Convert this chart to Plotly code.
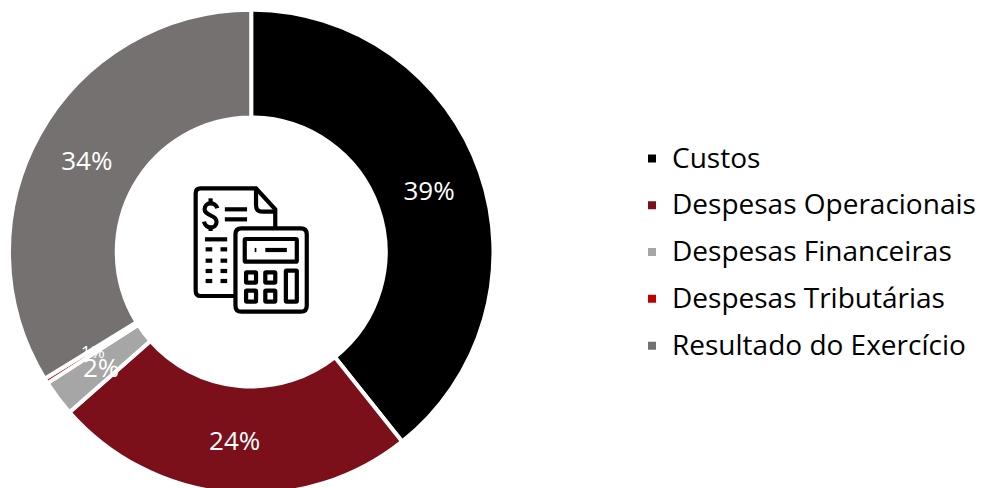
import plotly.graph_objects as go

categories = ["Custos", "Despesas Operacionais", "Despesas Financeiras", "Despesas Tributárias", "Resultado do Exercício"]
values = [39.3, 24.2, 2.4, 0.34, 33.76]
value_labels = ["39%", "24%", "2%", "1%", "34%"]
colors = ["#000000", "#7b0f1a", "#a6a6a6", "#c00000", "#767171"]

W, H = 981, 504
FONT = "Open Sans"


def X(z):
    return (170 + z / 3) / W


def Y(z):
    return 1 - (170 + z / 3) / H


def path(cmds):
    out = []
    for c in cmds:
        if isinstance(c, str):
            out.append(c)
        else:
            out.append(f"{X(c[0]):.5f},{Y(c[1]):.5f}")
    return " ".join(out)


def rrect(x0, y0, x1, y1, r):
    return path(["M", (x0 + r, y0), "L", (x1 - r, y0), "Q", (x1, y0), (x1, y0 + r), "L", (x1, y1 - r),
                 "Q", (x1, y1), (x1 - r, y1), "L", (x0 + r, y1), "Q", (x0, y1), (x0, y1 - r), "L", (x0, y0 + r),
                 "Q", (x0, y0), (x0 + r, y0), "Z"])


def line(x0, y0, x1, y1):
    return path(["M", (x0, y0), "L", (x1, y1)])


icon = [
    path(["M", (198, 378), "L", (95, 378), "Q", (80, 378), (80, 363), "L", (80, 70), "Q", (80, 55), (95, 55),
          "L", (262, 55), "L", (320, 118), "L", (320, 175)]),
    path(["M", (262, 55), "L", (262, 105), "Q", (262, 125), (280, 125), "L", (320, 125)]),
    path(["M", (145, 115), "C", (140, 95), (107, 95), (107, 118), "C", (107, 140), (143, 132), (143, 155),
          "C", (143, 178), (110, 178), (105, 155)]),
    line(125, 85, 125, 100), line(125, 172, 125, 183),
    line(168, 118, 235, 118), line(168, 148, 235, 148),
    line(108, 208, 175, 208),
    rrect(200, 175, 415, 425, 18),
    rrect(228, 207, 385, 275, 3),
    line(290, 240, 355, 240), line(258, 240, 263, 240),
    rrect(232, 307, 262, 338, 2), rrect(290, 307, 320, 338, 2), rrect(352, 302, 385, 395, 2),
    rrect(232, 362, 262, 395, 2), rrect(290, 362, 320, 395, 2),
]
for yy in (238, 272, 303, 333):
    icon.append(line(110, yy, 130, yy))
    icon.append(line(155, yy, 175, yy))

shapes = [dict(type="path", xref="paper", yref="paper", path=p, line=dict(color="#000000", width=4.2),
               fillcolor="rgba(0,0,0,0)", layer="above") for p in icon]

legend_names = [f'<span style="font-size:28px">{c}</span>' for c in categories]

# the two thin slices carry their labels as annotations, since the pie would shrink or drop them
pie_text = [t if v >= 5 else "" for t, v in zip(value_labels, values)]
annotations = [
    dict(text=value_labels[3], xref="paper", yref="paper", x=93 / W, y=1 - 351 / H, showarrow=False,
         xanchor="center", yanchor="middle", font=dict(family=FONT, size=17, color="#ffffff")),
    dict(text=value_labels[2], xref="paper", yref="paper", x=102 / W, y=1 - 367 / H, showarrow=False,
         xanchor="center", yanchor="middle", font=dict(family=FONT, size=26, color="#ffffff")),
]

fig = go.Figure(go.Pie(
    labels=legend_names,
    values=values,
    text=pie_text,
    textinfo="text",
    textposition="inside",
    insidetextorientation="horizontal",
    textfont=dict(family=FONT, size=26, color="#ffffff"),
    hole=0.555,
    sort=False,
    direction="clockwise",
    rotation=0,
    marker=dict(colors=colors, line=dict(color="#ffffff", width=4)),
    domain=dict(x=[9 / W, 496 / W], y=[8.5 / H, 495.5 / H]),
))

fig.update_layout(
    width=W, height=H,
    margin=dict(l=0, r=0, t=0, b=0),
    paper_bgcolor="#ffffff",
    font=dict(family=FONT, color="#000000"),
    shapes=shapes,
    annotations=annotations,
    legend=dict(x=635.5 / W, xanchor="left", y=1 - 252.5 / H, yanchor="middle",
                font=dict(family=FONT, size=33.7, color="#000000"),
                bgcolor="rgba(0,0,0,0)"),
)

fig.write_html(
    "out.html",
    config={"displayModeBar": False},
    post_script="document.documentElement.style.overflow='hidden';document.body.style.overflow='hidden';"
                "document.body.style.margin='0';"
                "document.querySelectorAll('.legendtext').forEach(function(t){t.setAttribute('transform','translate(0,-4)');});",
)
